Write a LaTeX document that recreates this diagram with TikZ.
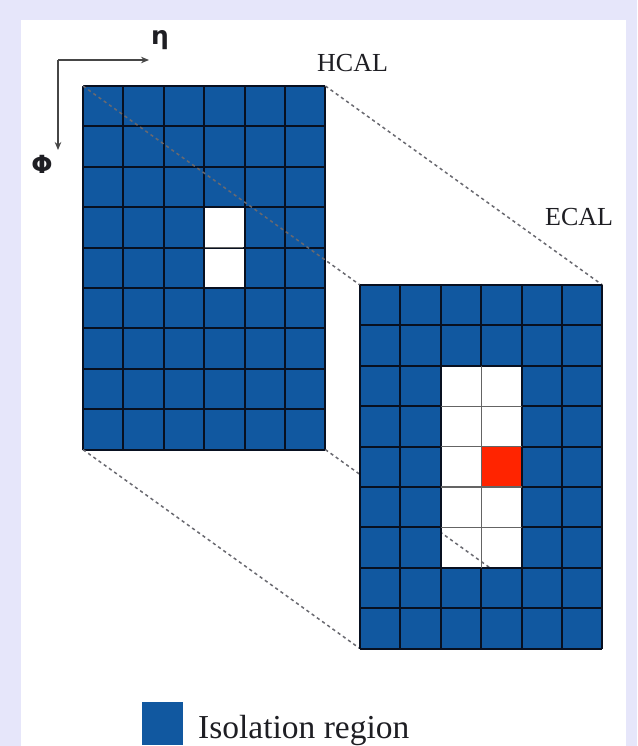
\documentclass[tikz,border=0pt]{standalone}
\usepackage{fontspec}
\setmainfont{Liberation Serif}
\newfontfamily\symfont{DejaVu Sans}
\usetikzlibrary{arrows.meta}
\definecolor{bgl}{RGB}{230,230,250}
\definecolor{cellblue}{RGB}{17,88,160}
\definecolor{hitred}{RGB}{255,36,0}
\definecolor{gridc}{RGB}{8,16,32}
\definecolor{softgrid}{RGB}{100,100,100}
\definecolor{dashc}{RGB}{105,105,112}
\definecolor{axisc}{RGB}{70,70,70}
\definecolor{txt}{RGB}{30,30,35}
\tikzset{
  gridline/.style={draw=gridc, line width=2pt},
  innerline/.style={draw=softgrid, line width=1.4pt},
  dashline/.style={draw=dashc, line width=1.5pt, dash pattern=on 3.2pt off 3.2pt},
  axisline/.style={draw=axisc, line width=1.3pt, -{Stealth[length=8pt,width=6.5pt]}},
  calname/.style={anchor=base west, inner sep=0pt, text=txt, font=\fontsize{26}{30}\selectfont},
  axislab/.style={inner sep=0pt, text=txt, font=\symfont\bfseries\fontsize{25}{30}\selectfont}
}
\begin{document}
\begin{tikzpicture}[x=1pt,y=-1pt]
\fill[bgl] (0,0) rectangle (637,746);
\fill[white] (21,20) rectangle (626,746);
\useasboundingbox (0,0) rectangle (637,746);

% axes
\coordinate (corner) at (58,60);
\coordinate (etatip) at (149,60);
\coordinate (phitip) at (58,150);
\draw[axisline] (corner) -- (etatip);
\draw[axisline] (corner) -- (phitip);
\node[axislab] (eta) at (160,40) {η};
\node[axislab] (phi) at (42,164) {Φ};

% HCAL grid
\begin{scope}[shift={(83,86)}, x=40.4pt, y=-40.4pt]
  \fill[cellblue] (0,0) rectangle (6,9);
  \fill[white] (3,3) rectangle (4,5);
  \foreach \k in {0,...,6} \draw[gridline] (\k,0) -- (\k,9);
  \foreach \k in {0,...,9} \draw[gridline] (0,\k) -- (6,\k);
  \draw[innerline] (3.03,4) -- (3.97,4);
  \coordinate (htl) at (0,0);
  \coordinate (htr) at (6,0);
  \coordinate (hbl) at (0,9);
  \coordinate (hbr) at (6,9);
\end{scope}

% ECAL corners
\begin{scope}[shift={(360,285)}, x=40.4pt, y=-40.4pt]
  \coordinate (etl) at (0,0);
  \coordinate (etr) at (6,0);
  \coordinate (ebl) at (0,9);
  \coordinate (ebr) at (6,9);
\end{scope}

% projection lines
\draw[dashline] (htl) -- (etl);
\draw[dashline] (htr) -- (etr);
\draw[dashline] (hbl) -- (ebl);
\draw[dashline] (hbr) -- (ebr);

% ECAL grid
\begin{scope}[shift={(360,285)}, x=40.4pt, y=-40.4pt]
  \fill[cellblue] (0,0) rectangle (6,2);
  \fill[cellblue] (0,7) rectangle (6,9);
  \fill[cellblue] (0,2) rectangle (2,7);
  \fill[cellblue] (4,2) rectangle (6,7);
  \fill[hitred] (3,4) rectangle (4,5);
  \foreach \k in {0,1,2,4,5,6} \draw[gridline] (\k,0) -- (\k,9);
  \draw[gridline] (3,0) -- (3,2);
  \draw[gridline] (3,7) -- (3,9);
  \foreach \k in {0,1,2,7,8,9} \draw[gridline] (0,\k) -- (6,\k);
  \foreach \k in {3,4,5,6} {
    \draw[gridline] (0,\k) -- (2,\k);
    \draw[gridline] (4,\k) -- (6,\k);
    \draw[innerline] (2,\k) -- (4,\k);
  }
  \draw[innerline] (3,2) -- (3,7);
\end{scope}

% labels
\node[calname] (hcal) at (317,72) {HCAL};
\node[calname] (ecal) at (545,225) {ECAL};

% legend
\fill[cellblue] (142,702) rectangle (183,745);
\node[anchor=base west, inner sep=0pt, text=txt, font=\fontsize{33.5}{38}\selectfont] (legend) at (198,738) {Isolation region};
\end{tikzpicture}
\end{document}
